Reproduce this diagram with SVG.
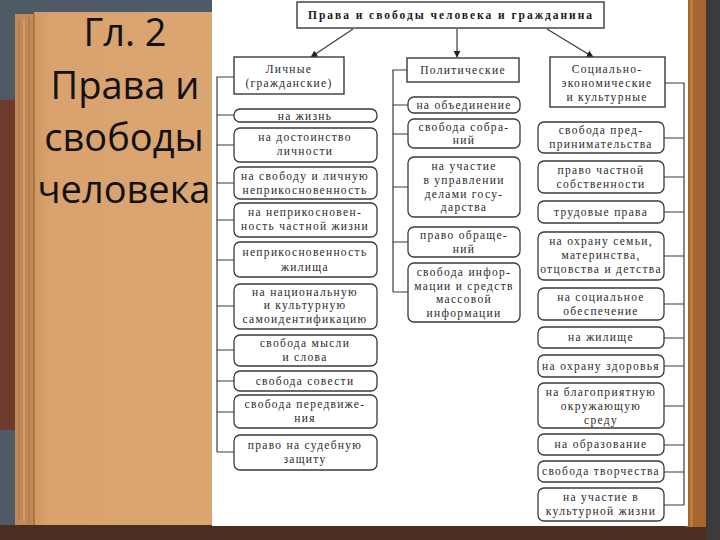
<svg xmlns="http://www.w3.org/2000/svg" width="720" height="540" viewBox="0 0 720 540">
<defs>
<style>
.hdr{fill:#fff;stroke:#3a3a3a;stroke-width:1.4}
.bx{fill:#fff;stroke:#3a3a3a;stroke-width:1.3}
.t{font-family:"Liberation Serif","Times New Roman",serif;font-size:11.5px;fill:#2a2a2a;text-anchor:middle;letter-spacing:1.3px}
.tt{font-family:"Liberation Serif","Times New Roman",serif;font-size:11.5px;font-weight:bold;fill:#1a1a1a;text-anchor:middle}
.big{font-family:"Open Sans","Noto Sans",sans-serif;font-size:38px;fill:#111;text-anchor:middle}
.ln{stroke:#3a3a3a;stroke-width:1.2;fill:none}
</style>
<marker id="ah" viewBox="0 0 10 10" refX="9" refY="5" markerWidth="7" markerHeight="7" orient="auto" markerUnits="userSpaceOnUse">
<path d="M0,0 L10,5 L0,10 z" fill="#222"/>
</marker>
<linearGradient id="page" x1="0" y1="0" x2="1" y2="0">
<stop offset="0" stop-color="#d09863"/>
<stop offset="0.1" stop-color="#d9a26f"/>
<stop offset="1" stop-color="#dba672"/>
</linearGradient>
</defs>
<!-- background -->
<rect x="0" y="0" width="720" height="540" fill="#4f5a66"/>
<rect x="0" y="100" width="15" height="330" fill="#6e3a2c"/>
<rect x="15" y="14" width="199" height="513" fill="#c18a58"/>
<rect x="34" y="12" width="180" height="514" fill="url(#page)"/>
<line x1="19" y1="20" x2="19" y2="520" stroke="#a87446" stroke-width="1"/>
<line x1="24" y1="18" x2="24" y2="522" stroke="#d4a06c" stroke-width="1.5"/>
<line x1="29" y1="16" x2="29" y2="524" stroke="#a87446" stroke-width="1"/>
<line x1="34" y1="14" x2="34" y2="526" stroke="#9f6a3c" stroke-width="1.5"/>
<rect x="0" y="525" width="720" height="15" fill="#4a2e22"/>
<rect x="686" y="0" width="20" height="527" fill="#a5662f"/>
<rect x="690" y="0" width="3" height="527" fill="#c07a3a"/>
<rect x="706" y="0" width="14" height="540" fill="#3c3b3c"/>
<rect x="212" y="0" width="476" height="526" fill="#ffffff"/>
<!-- left title -->
<g id="chapter-title">
<text class="big" x="125" y="46">Гл. 2</text>
<text class="big" x="125" y="99">Права и</text>
<text class="big" x="124" y="151">свободы</text>
<text class="big" x="124" y="203">человека</text>
</g>
<!-- connectors -->
<g id="connectors">
<line class="ln" x1="353" y1="29" x2="311" y2="57" marker-end="url(#ah)"/>
<line class="ln" x1="457" y1="29" x2="457" y2="57" marker-end="url(#ah)"/>
<line class="ln" x1="547" y1="29" x2="593" y2="57" marker-end="url(#ah)"/>
<path class="ln" d="M234,77 H217 V452 M217,115 H234 M217,145 H234 M217,183 H234 M217,220 H234 M217,260 H234 M217,306 H234 M217,350 H234 M217,381 H234 M217,412 H234 M217,452 H234"/>
<path class="ln" d="M408,70 H393 V292 M393,105 H408 M393,134 H408 M393,187 H408 M393,242 H408 M393,292 H408"/>
<path class="ln" d="M665,83 H684 V505 M664,138 H684 M664,177 H684 M664,212 H684 M664,256 H684 M664,304 H684 M664,338 H684 M664,366 H684 M664,406 H684 M664,445 H684 M664,472 H684 M664,505 H684"/>
</g>
<!-- title -->
<g id="n-title">
<rect class="hdr" x="297" y="2" width="307" height="26"/>
<text class="tt" x="450" y="19" textLength="284" lengthAdjust="spacing">Права и свободы человека и гражданина</text>
</g>
<!-- headers -->
<g id="n-personal">
<rect class="hdr" x="234" y="57" width="110" height="37"/>
<text class="t" x="289" y="73">Личные</text>
<text class="t" x="289" y="87">(гражданские)</text>
</g>
<g id="n-political">
<rect class="hdr" x="407" y="58" width="112" height="24"/>
<text class="t" x="463" y="74">Политические</text>
</g>
<g id="n-social">
<rect class="hdr" x="550" y="57" width="115" height="50"/>
<text class="t" x="607" y="73">Социально-</text>
<text class="t" x="607" y="87">экономические</text>
<text class="t" x="607" y="101">и культурные</text>
</g>
<!-- left column -->
<g id="p1"><rect class="bx" x="234" y="109" width="143" height="13" rx="6"/><text class="t" x="305" y="119.5">на жизнь</text></g>
<g id="p2"><rect class="bx" x="234" y="128" width="143" height="34" rx="6"/><text class="t" x="305" y="141">на достоинство</text><text class="t" x="305" y="155">личности</text></g>
<g id="p3"><rect class="bx" x="234" y="167" width="143" height="32" rx="6"/><text class="t" x="305" y="180">на свободу и личную</text><text class="t" x="305" y="194">неприкосновенность</text></g>
<g id="p4"><rect class="bx" x="234" y="203" width="143" height="34" rx="6"/><text class="t" x="305" y="216">на неприкосновен-</text><text class="t" x="305" y="230">ность частной жизни</text></g>
<g id="p5"><rect class="bx" x="234" y="242" width="143" height="35" rx="6"/><text class="t" x="305" y="256">неприкосновенность</text><text class="t" x="305" y="271">жилища</text></g>
<g id="p6"><rect class="bx" x="234" y="284" width="143" height="45" rx="6"/><text class="t" x="305" y="296">на национальную</text><text class="t" x="305" y="309">и культурную</text><text class="t" x="305" y="323">самоидентификацию</text></g>
<g id="p7"><rect class="bx" x="234" y="335" width="143" height="31" rx="6"/><text class="t" x="305" y="347">свобода мысли</text><text class="t" x="305" y="361">и слова</text></g>
<g id="p8"><rect class="bx" x="234" y="371" width="143" height="20" rx="6"/><text class="t" x="305" y="385">свобода совести</text></g>
<g id="p9"><rect class="bx" x="234" y="395" width="143" height="33" rx="6"/><text class="t" x="305" y="408">свобода передвиже-</text><text class="t" x="305" y="422">ния</text></g>
<g id="p10"><rect class="bx" x="234" y="435" width="143" height="35" rx="6"/><text class="t" x="305" y="449">право на судебную</text><text class="t" x="305" y="463">защиту</text></g>
<!-- middle column -->
<g id="m1"><rect class="bx" x="408" y="97" width="112" height="16" rx="6"/><text class="t" x="464" y="109">на объединение</text></g>
<g id="m2"><rect class="bx" x="408" y="119" width="112" height="29" rx="6"/><text class="t" x="464" y="131">свобода собра-</text><text class="t" x="464" y="144">ний</text></g>
<g id="m3"><rect class="bx" x="408" y="157" width="112" height="60" rx="6"/><text class="t" x="464" y="170">на участие</text><text class="t" x="464" y="184">в управлении</text><text class="t" x="464" y="198">делами госу-</text><text class="t" x="464" y="211">дарства</text></g>
<g id="m4"><rect class="bx" x="408" y="227" width="112" height="30" rx="6"/><text class="t" x="464" y="239">право обраще-</text><text class="t" x="464" y="253">ний</text></g>
<g id="m5"><rect class="bx" x="408" y="263" width="112" height="59" rx="6"/><text class="t" x="464" y="276">свобода инфор-</text><text class="t" x="464" y="290">мации и средств</text><text class="t" x="464" y="303">массовой</text><text class="t" x="464" y="317">информации</text></g>
<!-- right column -->
<g id="s1"><rect class="bx" x="538" y="122" width="126" height="31" rx="6"/><text class="t" x="601" y="134">свобода пред-</text><text class="t" x="601" y="148">принимательства</text></g>
<g id="s2"><rect class="bx" x="538" y="161" width="126" height="32" rx="6"/><text class="t" x="601" y="174">право частной</text><text class="t" x="601" y="188">собственности</text></g>
<g id="s3"><rect class="bx" x="538" y="201" width="126" height="22" rx="6"/><text class="t" x="601" y="216">трудовые права</text></g>
<g id="s4"><rect class="bx" x="538" y="232" width="126" height="48" rx="6"/><text class="t" x="601" y="245">на охрану семьи,</text><text class="t" x="601" y="259">материнства,</text><text class="t" x="601" y="273">отцовства и детства</text></g>
<g id="s5"><rect class="bx" x="538" y="288" width="126" height="32" rx="6"/><text class="t" x="601" y="301">на социальное</text><text class="t" x="601" y="315">обеспечение</text></g>
<g id="s6"><rect class="bx" x="538" y="327" width="126" height="21" rx="6"/><text class="t" x="601" y="341">на жилище</text></g>
<g id="s7"><rect class="bx" x="538" y="355" width="126" height="22" rx="6"/><text class="t" x="601" y="370">на охрану здоровья</text></g>
<g id="s8"><rect class="bx" x="538" y="383" width="126" height="45" rx="6"/><text class="t" x="601" y="396">на благоприятную</text><text class="t" x="601" y="410">окружающую</text><text class="t" x="601" y="424">среду</text></g>
<g id="s9"><rect class="bx" x="538" y="434" width="126" height="21" rx="6"/><text class="t" x="601" y="448">на образование</text></g>
<g id="s10"><rect class="bx" x="538" y="461" width="126" height="21" rx="6"/><text class="t" x="601" y="475">свобода творчества</text></g>
<g id="s11"><rect class="bx" x="538" y="488" width="126" height="33" rx="6"/><text class="t" x="601" y="501">на участие в</text><text class="t" x="601" y="515">культурной жизни</text></g>
</svg>
